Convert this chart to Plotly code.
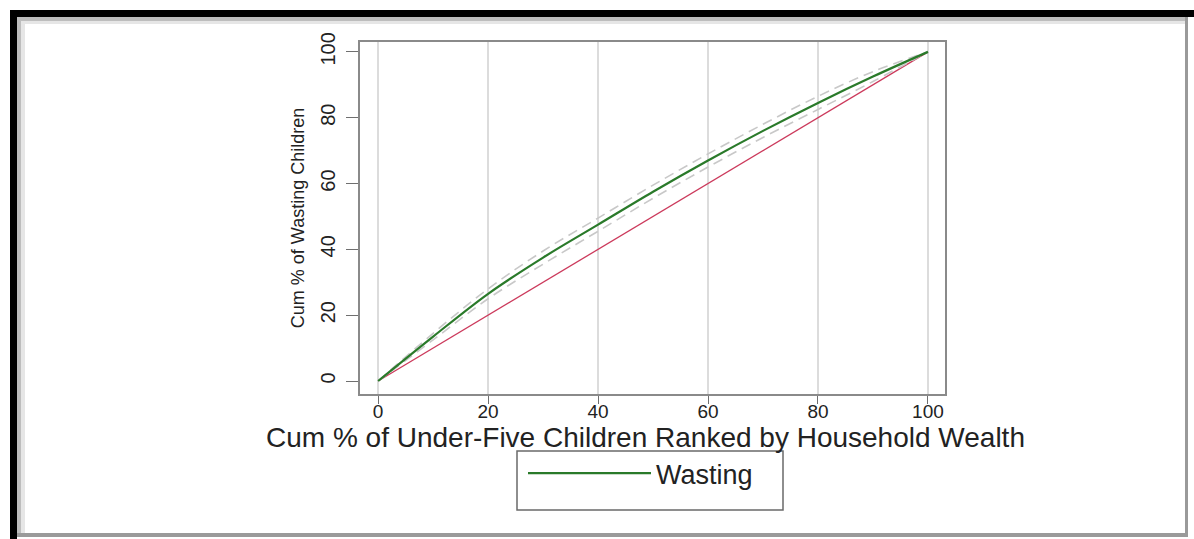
import plotly.graph_objects as go

# ---------------- data ----------------
x_pct = [0, 10, 20, 30, 40, 50, 60, 70, 80, 90, 100]
wasting = [0, 13.5, 26.5, 37.5, 47.5, 57.5, 67.0, 76.0, 84.5, 92.5, 100]
ci_upper = [0, 14.5, 28.0, 39.5, 49.5, 59.5, 69.0, 78.0, 86.5, 94.0, 100]
ci_lower = [0, 12.5, 25.0, 35.5, 45.5, 55.5, 65.0, 74.0, 82.5, 91.0, 100]
equality_x = [0, 100]
equality_y = [0, 100]
x_ticks = [0, 20, 40, 60, 80, 100]
y_ticks = [0, 20, 40, 60, 80, 100]
x_title = "Cum % of Under-Five Children Ranked by Household Wealth"
y_title = "Cum % of Wasting Children"

# ---------------- layout geometry ----------------
W, H = 1194, 539
PL, PR, PT, PB = 360, 945, 42, 394


def px(x):
    return (x - PL) / (PR - PL)


def py(y):
    return (PB - y) / (PB - PT)


FONT = "Liberation Sans, Arial, sans-serif"

fig = go.Figure()
fig.add_trace(go.Scatter(x=equality_x, y=equality_y, mode="lines",
                         line=dict(color="#cc3a5c", width=1.3),
                         showlegend=False, hoverinfo="skip"))
fig.add_trace(go.Scatter(x=x_pct, y=ci_upper, mode="lines",
                         line=dict(color="#c8c8c8", width=1.6, dash="10px,6px", shape="spline"),
                         showlegend=False, hoverinfo="skip"))
fig.add_trace(go.Scatter(x=x_pct, y=ci_lower, mode="lines",
                         line=dict(color="#c8c8c8", width=1.6, dash="10px,6px", shape="spline"),
                         showlegend=False, hoverinfo="skip"))
fig.add_trace(go.Scatter(x=x_pct, y=wasting, mode="lines", name="Wasting",
                         line=dict(color="#2a7a2a", width=2.2, shape="spline")))

shapes = [
    # black frame (left and top)
    dict(type="rect", xref="paper", yref="paper", x0=px(10), x1=px(17), y0=py(539), y1=py(10),
         fillcolor="black", line=dict(width=0), layer="below"),
    dict(type="rect", xref="paper", yref="paper", x0=px(10), x1=px(1194), y0=py(17), y1=py(10),
         fillcolor="black", line=dict(width=0), layer="below"),
    # soft shadow inside
    dict(type="rect", xref="paper", yref="paper", x0=px(17), x1=px(21), y0=py(536), y1=py(17),
         fillcolor="#bdbdbd", line=dict(width=0), layer="below"),
    dict(type="rect", xref="paper", yref="paper", x0=px(21), x1=px(25), y0=py(536), y1=py(17),
         fillcolor="#e6e6e6", line=dict(width=0), layer="below"),
    dict(type="rect", xref="paper", yref="paper", x0=px(17), x1=px(1187), y0=py(21), y1=py(17),
         fillcolor="#bdbdbd", line=dict(width=0), layer="below"),
    dict(type="rect", xref="paper", yref="paper", x0=px(21), x1=px(1187), y0=py(24), y1=py(21),
         fillcolor="#e6e6e6", line=dict(width=0), layer="below"),
    # right and bottom grey edges
    dict(type="rect", xref="paper", yref="paper", x0=px(1185), x1=px(1188), y0=py(536), y1=py(17),
         fillcolor="#9a9a9a", line=dict(width=0), layer="below"),
    dict(type="rect", xref="paper", yref="paper", x0=px(17), x1=px(1188), y0=py(537), y1=py(533),
         fillcolor="#9a9a9a", line=dict(width=0), layer="below"),
    # legend box
    dict(type="rect", xref="paper", yref="paper", x0=px(517), x1=px(783), y0=py(510), y1=py(451),
         fillcolor="white", line=dict(color="#6a6a6a", width=1.5), layer="below"),
]

annotations = [
    dict(text=x_title, xref="paper", yref="paper", x=px(645), y=py(437),
         xanchor="center", yanchor="middle", showarrow=False,
         font=dict(size=28, family=FONT, color="#222222")),
]

fig.update_layout(
    width=W, height=H, autosize=False,
    margin=dict(l=PL, r=W - PR, t=PT, b=H - PB, pad=0),
    paper_bgcolor="white", plot_bgcolor="white",
    font=dict(family=FONT, color="#222222"),
    shapes=shapes,
    annotations=annotations,
    showlegend=True,
    legend=dict(x=px(523), y=py(449), xanchor="left", yanchor="top",
                bgcolor="rgba(0,0,0,0)", borderwidth=0,
                font=dict(size=27, family=FONT, color="#222222"),
                itemwidth=123),
    xaxis=dict(range=[-3.3, 103.1], tickvals=x_ticks, ticks="outside", ticklen=8,
               tickcolor="#6f6f6f", tickwidth=1.2, ticklabelstandoff=-9,
               showline=True, mirror=True, linecolor="#8a8a8a", linewidth=1.5,
               showgrid=True, gridcolor="#dcdcdc", gridwidth=1.5, zeroline=False,
               tickfont=dict(size=19, family=FONT, color="#222222")),
    yaxis=dict(range=[-3.95, 103], tickvals=y_ticks, ticks="outside", ticklen=12,
               tickcolor="#6f6f6f", tickwidth=1.2, tickangle=-90, ticklabelstandoff=3,
               showline=True, mirror=True, linecolor="#8a8a8a", linewidth=1.5,
               showgrid=False, zeroline=False,
               tickfont=dict(size=20, family=FONT, color="#222222"),
               title=dict(text=y_title,
                          font=dict(size=18, family=FONT, color="#222222"), standoff=8)),
)

fig.write_html("out.html", config={"displayModeBar": False},
               post_script="document.body.style.margin='0';")
